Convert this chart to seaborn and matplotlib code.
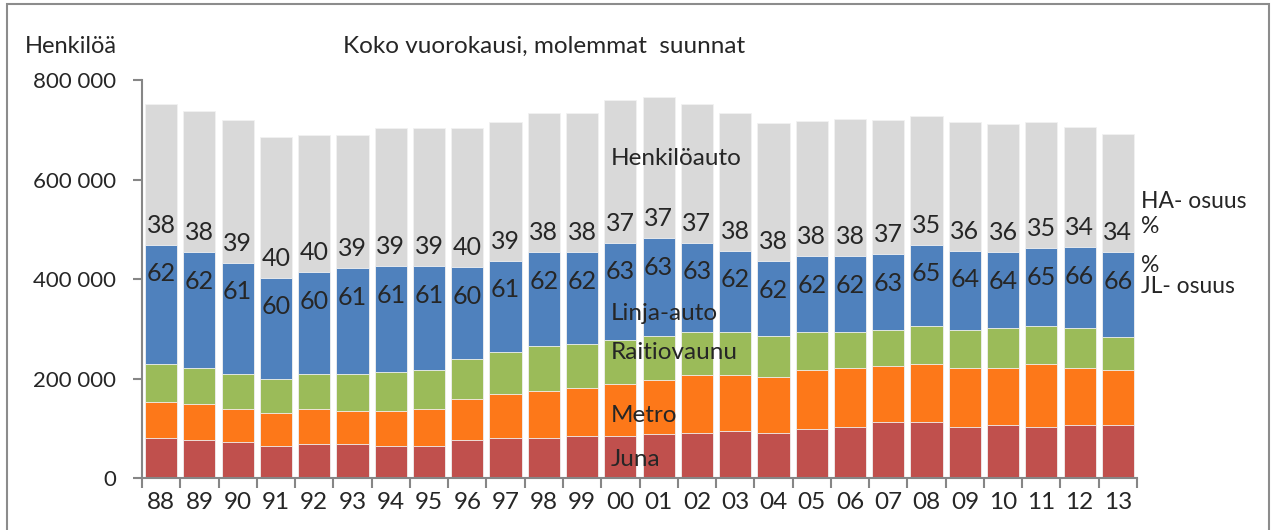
import numpy as np
import pandas as pd
import matplotlib
matplotlib.use('Agg')
import matplotlib.pyplot as plt
import matplotlib.patches as mpatches
from matplotlib.ticker import FuncFormatter, FixedLocator
import seaborn as sns

sns.set_style('white')
plt.rcParams['font.family'] = ['Lato', 'DejaVu Sans']

years = ['88', '89', '90', '91', '92', '93', '94', '95', '96', '97', '98', '99', '00',
         '01', '02', '03', '04', '05', '06', '07', '08', '09', '10', '11', '12', '13']

# matkustajat tuhansina, luettu kuvasta
juna = [81, 76, 72, 64, 68, 68, 64, 64, 76, 81, 81, 85, 85, 89, 92, 96, 92, 100, 104, 113, 113, 104, 108, 104, 108, 108]
metro = [72, 74, 68, 68, 72, 68, 72, 76, 84, 88, 95, 96, 104, 108, 116, 112, 112, 117, 117, 112, 116, 117, 113, 125, 113, 110]
raitiovaunu = [77, 72, 69, 68, 69, 73, 78, 78, 80, 85, 90, 88, 89, 89, 85, 85, 81, 76, 72, 72, 76, 76, 80, 76, 80, 65]
linja_auto = [239, 232, 224, 203, 205, 213, 212, 208, 184, 183, 188, 185, 195, 196, 180, 164, 151, 153, 153, 153, 164, 160, 153, 157, 163, 171]
henkiloauto = [282, 284, 286, 282, 276, 268, 277, 277, 280, 278, 280, 280, 286, 284, 278, 277, 278, 272, 276, 269, 258, 258, 258, 254, 241, 237]

ha_osuus = [38, 38, 39, 40, 40, 39, 39, 39, 40, 39, 38, 38, 37, 37, 37, 38, 38, 38, 38, 37, 35, 36, 36, 35, 34, 34]
jl_osuus = [62, 62, 61, 60, 60, 61, 61, 61, 60, 61, 62, 62, 63, 63, 63, 62, 62, 62, 62, 63, 65, 64, 64, 65, 66, 66]

modes = ['Juna', 'Metro', 'Raitiovaunu', 'Linja-auto', 'Henkilöauto']
colors = {'Juna': '#C0504D', 'Metro': '#FD7819', 'Raitiovaunu': '#9BBB59',
          'Linja-auto': '#4F81BD', 'Henkilöauto': '#D9D9D9'}

df = pd.DataFrame({'vuosi': years, 'Juna': juna, 'Metro': metro,
                   'Raitiovaunu': raitiovaunu, 'Linja-auto': linja_auto,
                   'Henkilöauto': henkiloauto})
df[modes] = df[modes] * 1000
cum = df[modes].cumsum(axis=1)

fig = plt.figure(figsize=(12.71, 5.30), dpi=100)
ax = fig.add_axes([0.1117, 0.0975, 0.7829, 0.7515])

# pinotut pylväät: piirretään kumulatiiviset summat ylimmästä alkaen
for m in modes[::-1]:
    sns.barplot(x=df['vuosi'], y=cum[m], color=colors[m], width=0.84,
                edgecolor='#f2f2f2', linewidth=0.6, saturation=1, ax=ax)

ax.set_xlim(-0.5, len(years) - 0.5)
ax.set_ylim(0, 800000)
ax.set_yticks([0, 200000, 400000, 600000, 800000])
ax.yaxis.set_major_formatter(FuncFormatter(lambda v, p: f'{int(v):,}'.replace(',', ' ')))
ax.set_xlabel('')
ax.set_ylabel('')

ax.xaxis.set_minor_locator(FixedLocator(np.arange(-0.5, len(years), 1.0)))
ax.tick_params(axis='x', which='major', bottom=True, length=0, pad=10, labelsize=17.5)
ax.tick_params(axis='x', which='minor', bottom=True, length=7, width=1.5,
               color='#868686', direction='out')
ax.tick_params(axis='y', left=True, length=6.5, width=1.5, color='#868686',
               direction='out', pad=12, labelsize=16)

for s in ['top', 'right']:
    ax.spines[s].set_visible(False)
for s in ['left', 'bottom']:
    ax.spines[s].set_color('#868686')
    ax.spines[s].set_linewidth(1.5)

blue_top = cum['Linja-auto'].values
for i in range(len(years)):
    ax.annotate(str(ha_osuus[i]), (i, blue_top[i]), xytext=(0, 14), textcoords='offset points',
                ha='center', va='center', fontsize=18)
    ax.annotate(str(jl_osuus[i]), (i, blue_top[i]), xytext=(0, -21), textcoords='offset points',
                ha='center', va='center', fontsize=18)

# sarjojen nimet pylväiden päällä
for name, yv in [('Henkilöauto', 643000), ('Linja-auto', 332000), ('Raitiovaunu', 252000),
                 ('Metro', 127000), ('Juna', 37000)]:
    ax.text(11.75, yv, name, ha='left', va='center', fontsize=17.5)

fig.text(0.0197, 0.913, 'Henkilöä', ha='left', va='center', fontsize=17)
fig.text(0.27, 0.913, 'Koko vuorokausi, molemmat  suunnat', ha='left', va='center', fontsize=17.5)

fig.text(0.898, 0.619, 'HA- osuus', ha='left', va='center', fontsize=16.5)
fig.text(0.898, 0.572, '%', ha='left', va='center', fontsize=16.5)
fig.text(0.898, 0.500, '%', ha='left', va='center', fontsize=16.5)
fig.text(0.898, 0.460, 'JL- osuus', ha='left', va='center', fontsize=16.5)

fig.patches.append(mpatches.Rectangle((0.0055, -0.02), 0.993, 1.0125, transform=fig.transFigure,
                                      fill=False, edgecolor='#8c8c8c', linewidth=1.5))

fig.savefig('out.png', dpi=100)
